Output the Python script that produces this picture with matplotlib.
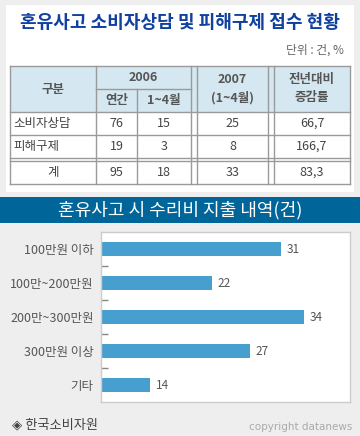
import matplotlib.pyplot as plt
from matplotlib.patches import Rectangle

plt.rcParams['font.family'] = ['Noto Sans CJK KR', 'DejaVu Sans']

# ---- data ----
title = '혼유사고 소비자상담 및 피해구제 접수 현황'
unit = '단위 : 건, %'
row_names = ['소비자상담', '피해구제', '계']
y2006_total = ['76', '19', '95']
y2006_jan_apr = ['15', '3', '18']
y2007_jan_apr = ['25', '8', '33']
change_rate = ['66,7', '166,7', '83,3']

chart_title = '혼유사고 시 수리비 지출 내역(건)'
categories = ['100만원 이하', '100만~200만원', '200만~300만원', '300만원 이상', '기타']
counts = [31, 22, 34, 27, 14]

source = '◈ 한국소비자원'
copyright_txt = 'copyright datanews'

W, H = 360, 436
fig = plt.figure(figsize=(W / 100, H / 100), dpi=100, facecolor='#eeeeee')

# background axes in pixel coords (y down)
bg = fig.add_axes([0, 0, 1, 1])
bg.set_xlim(0, W)
bg.set_ylim(H, 0)
bg.axis('off')

bg.add_patch(Rectangle((6, 5), 348, 187, facecolor='white', edgecolor='none'))
bg.text(180, 22, title, color='#1040a0', fontsize=13, fontweight='bold',
        ha='center', va='center')
bg.text(344, 50, unit, color='#666666', fontsize=8.5, ha='right', va='center')

# ---- table ----
line_c = '#9a9a9a'
head_c = '#d5e7f0'
txt_c = '#555555'
body_c = '#444444'
L, R = 10, 350
top, hmid, hbot = 66, 89, 112
cols = [10, 96, 137, 191, 197, 268, 274, 350]
row_y = [112, 135, 158, 161, 184]

bg.add_patch(Rectangle((L, top), R - L, hbot - top, facecolor=head_c, edgecolor='none'))
for y in [top, hbot, row_y[1], row_y[2], row_y[3], row_y[4]]:
    bg.plot([L, R], [y, y], color=line_c, lw=1)
bg.plot([cols[1], cols[3]], [hmid, hmid], color=line_c, lw=1)
for x in cols:
    if x == cols[2]:
        bg.plot([x, x], [hmid, row_y[4]], color=line_c, lw=1)
    else:
        bg.plot([x, x], [top, row_y[4]], color=line_c, lw=1)

def head(x, y, s):
    bg.text(x, y, s, color=txt_c, fontsize=9, fontweight='bold',
            ha='center', va='center', linespacing=1.5)

head((cols[0] + cols[1]) / 2, (top + hbot) / 2, '구분')
head((cols[1] + cols[3]) / 2, (top + hmid) / 2, '2006')
head((cols[1] + cols[2]) / 2, (hmid + hbot) / 2, '연간')
head((cols[2] + cols[3]) / 2, (hmid + hbot) / 2, '1~4월')
head((cols[4] + cols[5]) / 2, (top + hbot) / 2, '2007\n(1~4월)')
head((cols[6] + cols[7]) / 2, (top + hbot) / 2, '전년대비\n증감률')

centers = [(row_y[0] + row_y[1]) / 2, (row_y[1] + row_y[2]) / 2, (row_y[3] + row_y[4]) / 2]
for i, yc in enumerate(centers):
    if i < 2:
        bg.text(cols[0] + 3, yc, row_names[i], color=body_c, fontsize=9, ha='left', va='center')
    else:
        bg.text((cols[0] + cols[1]) / 2, yc, row_names[i], color=body_c, fontsize=9,
                ha='center', va='center')
    bg.text((cols[1] + cols[2]) / 2, yc, y2006_total[i], color=body_c, fontsize=9, ha='center', va='center')
    bg.text((cols[2] + cols[3]) / 2, yc, y2006_jan_apr[i], color=body_c, fontsize=9, ha='center', va='center')
    bg.text((cols[4] + cols[5]) / 2, yc, y2007_jan_apr[i], color=body_c, fontsize=9, ha='center', va='center')
    bg.text((cols[6] + cols[7]) / 2, yc, change_rate[i], color=body_c, fontsize=9, ha='center', va='center')

# ---- banner ----
bg.add_patch(Rectangle((0, 197), W, 26, facecolor='#00669a', edgecolor='none'))
bg.text(180, 210.5, chart_title, color='white', fontsize=13, ha='center', va='center')

# footer
bg.text(12, 425, source, color='#444444', fontsize=9.5, ha='left', va='center')
bg.text(352, 427, copyright_txt, color='#aaaaaa', fontsize=7.5, family='DejaVu Sans',
        ha='right', va='center')

# ---- bar chart ----
ax = fig.add_axes([100.5 / W, 1 - 402 / H, 249.5 / W, 170 / H])
ax.set_facecolor('white')
pos = list(range(len(categories)))
bars = ax.barh(pos, counts, height=0.44, color='#479fcf')
ax.set_xlim(7.5, 40)
ax.set_ylim(4.5, -0.5)
ax.set_yticks(pos)
ax.set_yticklabels(categories, fontsize=9, color='#555555')
ax.set_yticks([0.5, 1.5, 2.5, 3.5], minor=True)
ax.tick_params(axis='y', which='major', length=0, pad=5)
ax.tick_params(axis='y', which='minor', direction='in', length=5, color='#888888', width=1)
ax.set_xticks([])
for s in ax.spines.values():
    s.set_color('#cccccc')
    s.set_linewidth(1)
ax.bar_label(bars, padding=4, fontsize=8.5, color='#555555')

fig.savefig('out.png', dpi=100, facecolor=fig.get_facecolor())
